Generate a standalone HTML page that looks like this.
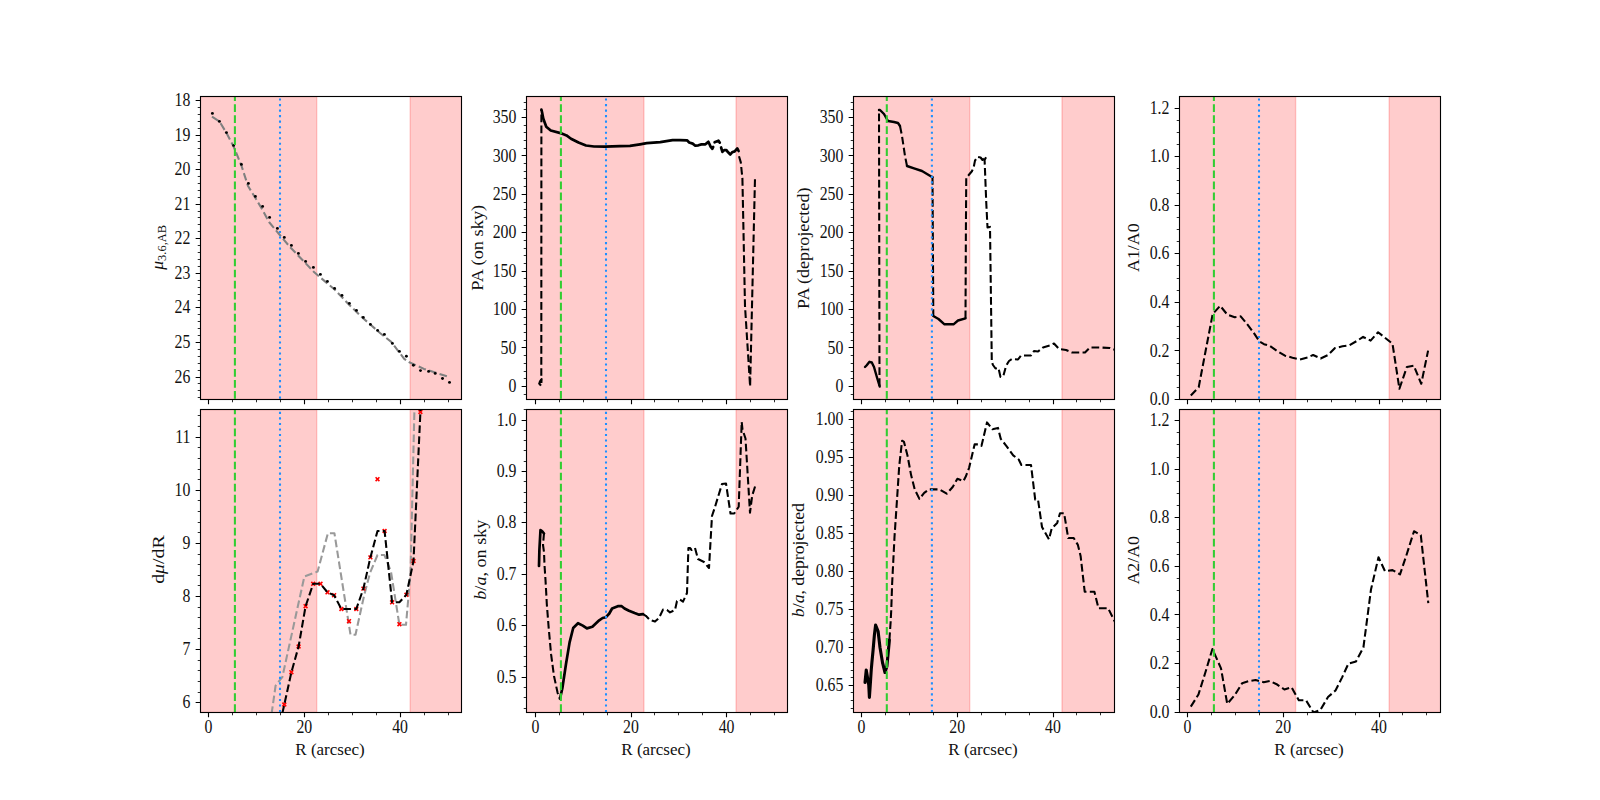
<!DOCTYPE html>
<html><head><meta charset="utf-8"><title>Profiles</title>
<style>html,body{margin:0;padding:0;background:#fff;width:1600px;height:800px;overflow:hidden}svg{display:block}text{font-family:'Liberation Serif', 'DejaVu Serif', serif;fill:#111}</style>
</head><body>
<svg width="1600" height="800" viewBox="0 0 1600 800">
<rect x="0" y="0" width="1600" height="800" fill="#fff"/>
<defs>
<clipPath id="c0"><rect x="200.5" y="96.5" width="261" height="303"/></clipPath>
<clipPath id="c1"><rect x="526.5" y="96.5" width="261" height="303"/></clipPath>
<clipPath id="c2"><rect x="853.5" y="96.5" width="261" height="303"/></clipPath>
<clipPath id="c3"><rect x="1179.5" y="96.5" width="261" height="303"/></clipPath>
<clipPath id="c4"><rect x="200.5" y="409.5" width="261" height="303"/></clipPath>
<clipPath id="c5"><rect x="526.5" y="409.5" width="261" height="303"/></clipPath>
<clipPath id="c6"><rect x="853.5" y="409.5" width="261" height="303"/></clipPath>
<clipPath id="c7"><rect x="1179.5" y="409.5" width="261" height="303"/></clipPath>
</defs>
<g clip-path="url(#c0)">
<rect x="195.5" y="96.5" width="121.2" height="303" fill="#ff0000" fill-opacity="0.2" stroke="#ff0000" stroke-opacity="0.2" stroke-width="1.39"/>
<rect x="410.2" y="96.5" width="61.3" height="303" fill="#ff0000" fill-opacity="0.2" stroke="#ff0000" stroke-opacity="0.2" stroke-width="1.39"/>
<polyline points="212,116.6 219.4,121.4 226.5,133 233.6,146.5 241.4,165.5 248,186 255.4,198 262.6,210 269,222 279,234 290,247 314,272 320.4,277.5 334.6,289.5 349.4,305 363.4,318.5 380,333 391.25,341.9 404.2,358.8 409.25,362.2 423.9,368.9 436,372.8 448.6,376.8" fill="none" stroke="#808080" stroke-width="2.08" stroke-dasharray="7.7 3.33" stroke-linejoin="round"/>
<g fill="#000"><circle cx="212.4" cy="113.4" r="1.45"/><circle cx="219.4" cy="121.4" r="1.45"/><circle cx="226.4" cy="132.6" r="1.45"/><circle cx="233.6" cy="145.4" r="1.45"/><circle cx="241.4" cy="164.4" r="1.45"/><circle cx="248.4" cy="183.4" r="1.45"/><circle cx="255.4" cy="196.4" r="1.45"/><circle cx="262.6" cy="206.4" r="1.45"/><circle cx="269.6" cy="217.4" r="1.45"/><circle cx="277.4" cy="228.4" r="1.45"/><circle cx="284.3" cy="237.4" r="1.45"/><circle cx="291.4" cy="245.4" r="1.45"/><circle cx="298.4" cy="253.4" r="1.45"/><circle cx="305.6" cy="261.4" r="1.45"/><circle cx="313.4" cy="267.4" r="1.45"/><circle cx="320.4" cy="274.4" r="1.45"/><circle cx="327.4" cy="281.4" r="1.45"/><circle cx="334.6" cy="288.4" r="1.45"/><circle cx="342" cy="295.4" r="1.45"/><circle cx="349.4" cy="303.4" r="1.45"/><circle cx="356.45" cy="310.4" r="1.45"/><circle cx="363.3" cy="317.4" r="1.45"/><circle cx="370.4" cy="324.4" r="1.45"/><circle cx="377.6" cy="330.4" r="1.45"/><circle cx="384.4" cy="334.4" r="1.45"/><circle cx="392.4" cy="343.4" r="1.45"/><circle cx="399.4" cy="351.4" r="1.45"/><circle cx="406.4" cy="356.2" r="1.45"/><circle cx="413.4" cy="365.3" r="1.45"/><circle cx="420.5" cy="370.6" r="1.45"/><circle cx="428.6" cy="371.4" r="1.45"/><circle cx="435.2" cy="373.4" r="1.45"/><circle cx="442.5" cy="378.5" r="1.45"/><circle cx="449.5" cy="382.4" r="1.45"/></g>
<line x1="234.9" y1="398.7" x2="234.9" y2="95.5" stroke="#32cd32" stroke-width="2.08" stroke-dasharray="7.7 3.33"/>
<line x1="280" y1="398.7" x2="280" y2="95.5" stroke="#1e90ff" stroke-width="2.08" stroke-dasharray="2.08 3.44"/>
</g>
<path d="M208.5 399.5v4.86M304.5 399.5v4.86M400.5 399.5v4.86M200.5 100.5h-4.86M200.5 135.5h-4.86M200.5 169.5h-4.86M200.5 204.5h-4.86M200.5 238.5h-4.86M200.5 273.5h-4.86M200.5 307.5h-4.86M200.5 342.5h-4.86M200.5 377.5h-4.86" stroke="#000" stroke-width="1.11" fill="none"/>
<path d="M232.5 399.5v2.78M256.5 399.5v2.78M280.5 399.5v2.78M328.5 399.5v2.78M352.5 399.5v2.78M376.5 399.5v2.78M424.5 399.5v2.78M448.5 399.5v2.78M200.5 107.5h-2.78M200.5 114.5h-2.78M200.5 121.5h-2.78M200.5 128.5h-2.78M200.5 141.5h-2.78M200.5 148.5h-2.78M200.5 155.5h-2.78M200.5 162.5h-2.78M200.5 176.5h-2.78M200.5 183.5h-2.78M200.5 190.5h-2.78M200.5 197.5h-2.78M200.5 211.5h-2.78M200.5 217.5h-2.78M200.5 224.5h-2.78M200.5 231.5h-2.78M200.5 245.5h-2.78M200.5 252.5h-2.78M200.5 259.5h-2.78M200.5 266.5h-2.78M200.5 280.5h-2.78M200.5 287.5h-2.78M200.5 294.5h-2.78M200.5 300.5h-2.78M200.5 314.5h-2.78M200.5 321.5h-2.78M200.5 328.5h-2.78M200.5 335.5h-2.78M200.5 349.5h-2.78M200.5 356.5h-2.78M200.5 363.5h-2.78M200.5 370.5h-2.78M200.5 383.5h-2.78M200.5 390.5h-2.78M200.5 397.5h-2.78" stroke="#000" stroke-width="0.83" fill="none"/>
<rect x="200.5" y="96.5" width="261" height="303" fill="none" stroke="#000" stroke-width="1.11" stroke-linejoin="miter"/>
<text transform="translate(190.4 106.05) scale(0.93 1.07)" font-size="17" text-anchor="end">18</text>
<text transform="translate(190.4 140.62) scale(0.93 1.07)" font-size="17" text-anchor="end">19</text>
<text transform="translate(190.4 175.19) scale(0.93 1.07)" font-size="17" text-anchor="end">20</text>
<text transform="translate(190.4 209.76) scale(0.93 1.07)" font-size="17" text-anchor="end">21</text>
<text transform="translate(190.4 244.33) scale(0.93 1.07)" font-size="17" text-anchor="end">22</text>
<text transform="translate(190.4 278.9) scale(0.93 1.07)" font-size="17" text-anchor="end">23</text>
<text transform="translate(190.4 313.47) scale(0.93 1.07)" font-size="17" text-anchor="end">24</text>
<text transform="translate(190.4 348.04) scale(0.93 1.07)" font-size="17" text-anchor="end">25</text>
<text transform="translate(190.4 382.61) scale(0.93 1.07)" font-size="17" text-anchor="end">26</text>
<g clip-path="url(#c1)">
<rect x="521.5" y="96.5" width="122.4" height="303" fill="#ff0000" fill-opacity="0.2" stroke="#ff0000" stroke-opacity="0.2" stroke-width="1.39"/>
<rect x="736.1" y="96.5" width="61.4" height="303" fill="#ff0000" fill-opacity="0.2" stroke="#ff0000" stroke-opacity="0.2" stroke-width="1.39"/>
<polyline points="539.5,382 541.6,379 541.2,386 539.2,383.5 541.3,379.5 541.4,110" fill="none" stroke="#000" stroke-width="2.08" stroke-dasharray="7.7 3.33" stroke-linejoin="round"/>
<polyline points="739,156.25 740.8,162.4 741.8,172.5 742.4,178 745,306 750.1,386.4 752,306 755,178 755.8,176.5" fill="none" stroke="#000" stroke-width="2.08" stroke-dasharray="7.7 3.33" stroke-linejoin="round"/>
<polyline points="541.4,109.5 542,112 543.25,118.5 546.25,126.75 550.75,130.5 560.5,133.1 566.5,135.4 571,138.75 578.5,142.5 586,145.5 594,146.5 605,146.6 620,146.2 630,145.8 640,144.3 646.75,143.2 660.3,142.1 672.6,140.2 680,140.1 687,140.3 689.2,142.5 692.7,143.6 695.3,145.75 698.4,145.3 701.4,144.4 705.4,144.4 706.2,143.6 708.4,141.8 710.6,146.6 712.4,148.8 713.2,147" fill="none" stroke="#000" stroke-width="2.7" stroke-linejoin="round" stroke-linecap="round"/>
<polyline points="714.6,142.25 716.5,141.5 718.5,140.7 719.8,142.7" fill="none" stroke="#000" stroke-width="2.7" stroke-linejoin="round" stroke-linecap="round"/>
<polyline points="721.1,147.5 722.4,151.9 724.2,150.1 726.4,150.1 728.1,152.3 730.3,154.5 732.1,152.3 734.7,151.4 737.3,148.4 738.6,151" fill="none" stroke="#000" stroke-width="2.7" stroke-linejoin="round" stroke-linecap="round"/>
<line x1="560.9" y1="398.7" x2="560.9" y2="95.5" stroke="#32cd32" stroke-width="2.08" stroke-dasharray="7.7 3.33"/>
<line x1="606" y1="398.7" x2="606" y2="95.5" stroke="#1e90ff" stroke-width="2.08" stroke-dasharray="2.08 3.44"/>
</g>
<path d="M535.5 399.5v4.86M631.5 399.5v4.86M726.5 399.5v4.86M526.5 386.5h-4.86M526.5 347.5h-4.86M526.5 309.5h-4.86M526.5 271.5h-4.86M526.5 232.5h-4.86M526.5 194.5h-4.86M526.5 155.5h-4.86M526.5 117.5h-4.86" stroke="#000" stroke-width="1.11" fill="none"/>
<path d="M559.5 399.5v2.78M583.5 399.5v2.78M607.5 399.5v2.78M654.5 399.5v2.78M678.5 399.5v2.78M702.5 399.5v2.78M750.5 399.5v2.78M774.5 399.5v2.78M526.5 394.5h-2.78M526.5 378.5h-2.78M526.5 371.5h-2.78M526.5 363.5h-2.78M526.5 355.5h-2.78M526.5 340.5h-2.78M526.5 332.5h-2.78M526.5 324.5h-2.78M526.5 317.5h-2.78M526.5 301.5h-2.78M526.5 294.5h-2.78M526.5 286.5h-2.78M526.5 278.5h-2.78M526.5 263.5h-2.78M526.5 255.5h-2.78M526.5 248.5h-2.78M526.5 240.5h-2.78M526.5 225.5h-2.78M526.5 217.5h-2.78M526.5 209.5h-2.78M526.5 202.5h-2.78M526.5 186.5h-2.78M526.5 178.5h-2.78M526.5 171.5h-2.78M526.5 163.5h-2.78M526.5 148.5h-2.78M526.5 140.5h-2.78M526.5 132.5h-2.78M526.5 125.5h-2.78M526.5 109.5h-2.78M526.5 102.5h-2.78" stroke="#000" stroke-width="0.83" fill="none"/>
<rect x="526.5" y="96.5" width="261" height="303" fill="none" stroke="#000" stroke-width="1.11" stroke-linejoin="miter"/>
<text transform="translate(516.4 392) scale(0.93 1.07)" font-size="17" text-anchor="end">0</text>
<text transform="translate(516.4 353.58) scale(0.93 1.07)" font-size="17" text-anchor="end">50</text>
<text transform="translate(516.4 315.17) scale(0.93 1.07)" font-size="17" text-anchor="end">100</text>
<text transform="translate(516.4 276.75) scale(0.93 1.07)" font-size="17" text-anchor="end">150</text>
<text transform="translate(516.4 238.34) scale(0.93 1.07)" font-size="17" text-anchor="end">200</text>
<text transform="translate(516.4 199.92) scale(0.93 1.07)" font-size="17" text-anchor="end">250</text>
<text transform="translate(516.4 161.51) scale(0.93 1.07)" font-size="17" text-anchor="end">300</text>
<text transform="translate(516.4 123.09) scale(0.93 1.07)" font-size="17" text-anchor="end">350</text>
<g clip-path="url(#c2)">
<rect x="848.5" y="96.5" width="121.2" height="303" fill="#ff0000" fill-opacity="0.2" stroke="#ff0000" stroke-opacity="0.2" stroke-width="1.39"/>
<rect x="1062" y="96.5" width="62.5" height="303" fill="#ff0000" fill-opacity="0.2" stroke="#ff0000" stroke-opacity="0.2" stroke-width="1.39"/>
<polyline points="879.5,386 879,110" fill="none" stroke="#000" stroke-width="2.08" stroke-dasharray="7.7 3.33" stroke-linejoin="round"/>
<polyline points="900,126 902,136 905,156 907,166" fill="none" stroke="#000" stroke-width="2.08" stroke-dasharray="7.7 3.33" stroke-linejoin="round"/>
<polyline points="932.5,177 933.3,316" fill="none" stroke="#000" stroke-width="2.08" stroke-dasharray="7.7 3.33" stroke-linejoin="round"/>
<polyline points="965.5,318.3 965.9,230 966.25,177.5 968.75,175 971.9,171.25 973.75,166.9 975,160.6 977.5,156.9 980.6,157.5 982.5,160 984.4,158.1 986.25,156.9 984.6,160 986.25,202.5 987.5,227.5 990,226.9 991.8,362 993,365 995.5,368.5 998.5,368 1000.5,377 1003.5,375.5 1006,366 1009,361 1012,359 1018,359.5 1021,355.5 1031,355.5 1034,351 1038,351.5 1043,347.5 1050,345.5 1054,343.5 1059,349 1066,350 1072,352.5 1085,352.5 1090,347.5 1100,347.5 1110,348 1114,349.5 1120,350" fill="none" stroke="#000" stroke-width="2.08" stroke-dasharray="7.7 3.33" stroke-linejoin="round"/>
<polyline points="865,367 866.5,365.5 869.5,361.8 871.8,362.5 874,367 877,377.5 879.7,386.5" fill="none" stroke="#000" stroke-width="2.4" stroke-linejoin="round" stroke-linecap="round"/>
<polyline points="879,110 880,110 884,114 888,121 894,122 898,123 900,126" fill="none" stroke="#000" stroke-width="2.4" stroke-linejoin="round" stroke-linecap="round"/>
<polyline points="907,166 914,168.4 922,171 932,177 932.5,177" fill="none" stroke="#000" stroke-width="2.4" stroke-linejoin="round" stroke-linecap="round"/>
<polyline points="933.3,316 938.5,319 944.5,324.3 953.5,324.3 958,320.5 965.5,318.3" fill="none" stroke="#000" stroke-width="2.4" stroke-linejoin="round" stroke-linecap="round"/>
<line x1="886.8" y1="398.7" x2="886.8" y2="95.5" stroke="#32cd32" stroke-width="2.08" stroke-dasharray="7.7 3.33"/>
<line x1="931.9" y1="398.7" x2="931.9" y2="95.5" stroke="#1e90ff" stroke-width="2.08" stroke-dasharray="2.08 3.44"/>
</g>
<path d="M861.5 399.5v4.86M957.5 399.5v4.86M1053.5 399.5v4.86M853.5 386.5h-4.86M853.5 347.5h-4.86M853.5 309.5h-4.86M853.5 271.5h-4.86M853.5 232.5h-4.86M853.5 194.5h-4.86M853.5 155.5h-4.86M853.5 117.5h-4.86" stroke="#000" stroke-width="1.11" fill="none"/>
<path d="M885.5 399.5v2.78M909.5 399.5v2.78M933.5 399.5v2.78M981.5 399.5v2.78M1005.5 399.5v2.78M1029.5 399.5v2.78M1076.5 399.5v2.78M1100.5 399.5v2.78M853.5 394.5h-2.78M853.5 378.5h-2.78M853.5 371.5h-2.78M853.5 363.5h-2.78M853.5 355.5h-2.78M853.5 340.5h-2.78M853.5 332.5h-2.78M853.5 324.5h-2.78M853.5 317.5h-2.78M853.5 301.5h-2.78M853.5 294.5h-2.78M853.5 286.5h-2.78M853.5 278.5h-2.78M853.5 263.5h-2.78M853.5 255.5h-2.78M853.5 248.5h-2.78M853.5 240.5h-2.78M853.5 225.5h-2.78M853.5 217.5h-2.78M853.5 209.5h-2.78M853.5 202.5h-2.78M853.5 186.5h-2.78M853.5 178.5h-2.78M853.5 171.5h-2.78M853.5 163.5h-2.78M853.5 148.5h-2.78M853.5 140.5h-2.78M853.5 132.5h-2.78M853.5 125.5h-2.78M853.5 109.5h-2.78M853.5 102.5h-2.78" stroke="#000" stroke-width="0.83" fill="none"/>
<rect x="853.5" y="96.5" width="261" height="303" fill="none" stroke="#000" stroke-width="1.11" stroke-linejoin="miter"/>
<text transform="translate(843.4 392) scale(0.93 1.07)" font-size="17" text-anchor="end">0</text>
<text transform="translate(843.4 353.58) scale(0.93 1.07)" font-size="17" text-anchor="end">50</text>
<text transform="translate(843.4 315.17) scale(0.93 1.07)" font-size="17" text-anchor="end">100</text>
<text transform="translate(843.4 276.75) scale(0.93 1.07)" font-size="17" text-anchor="end">150</text>
<text transform="translate(843.4 238.34) scale(0.93 1.07)" font-size="17" text-anchor="end">200</text>
<text transform="translate(843.4 199.92) scale(0.93 1.07)" font-size="17" text-anchor="end">250</text>
<text transform="translate(843.4 161.51) scale(0.93 1.07)" font-size="17" text-anchor="end">300</text>
<text transform="translate(843.4 123.09) scale(0.93 1.07)" font-size="17" text-anchor="end">350</text>
<g clip-path="url(#c3)">
<rect x="1174.5" y="96.5" width="121.1" height="303" fill="#ff0000" fill-opacity="0.2" stroke="#ff0000" stroke-opacity="0.2" stroke-width="1.39"/>
<rect x="1389.2" y="96.5" width="61.3" height="303" fill="#ff0000" fill-opacity="0.2" stroke="#ff0000" stroke-opacity="0.2" stroke-width="1.39"/>
<polyline points="1190.8,395.5 1198.7,387.2 1205.4,352 1212.7,314 1220.2,305.8 1227.2,314.5 1234.7,317.2 1240.7,316.4 1246.7,323.5 1253.5,332.5 1259.5,341.5 1264,344.2 1270,346 1277.5,351.2 1285,355.7 1292.5,357.7 1300,359.4 1307.5,357.5 1313.1,355 1320.6,358.5 1328.1,355 1335,348.1 1342.5,346.25 1349.4,345.25 1357.5,340.6 1363.1,336.9 1370.6,340.6 1378.1,332.25 1386.25,338.75 1392.5,343.75 1399.4,388.75 1406.9,366.9 1413.75,365.6 1421.25,383.75 1428.1,350.6" fill="none" stroke="#000" stroke-width="2.08" stroke-dasharray="7.7 3.33" stroke-linejoin="round"/>
<line x1="1213.9" y1="398.7" x2="1213.9" y2="95.5" stroke="#32cd32" stroke-width="2.08" stroke-dasharray="7.7 3.33"/>
<line x1="1259" y1="398.7" x2="1259" y2="95.5" stroke="#1e90ff" stroke-width="2.08" stroke-dasharray="2.08 3.44"/>
</g>
<path d="M1187.5 399.5v4.86M1283.5 399.5v4.86M1379.5 399.5v4.86M1179.5 399.5h-4.86M1179.5 350.5h-4.86M1179.5 302.5h-4.86M1179.5 253.5h-4.86M1179.5 205.5h-4.86M1179.5 156.5h-4.86M1179.5 108.5h-4.86" stroke="#000" stroke-width="1.11" fill="none"/>
<path d="M1211.5 399.5v2.78M1235.5 399.5v2.78M1259.5 399.5v2.78M1307.5 399.5v2.78M1331.5 399.5v2.78M1355.5 399.5v2.78M1402.5 399.5v2.78M1426.5 399.5v2.78M1179.5 387.5h-2.78M1179.5 375.5h-2.78M1179.5 363.5h-2.78M1179.5 338.5h-2.78M1179.5 326.5h-2.78M1179.5 314.5h-2.78M1179.5 290.5h-2.78M1179.5 278.5h-2.78M1179.5 265.5h-2.78M1179.5 241.5h-2.78M1179.5 229.5h-2.78M1179.5 217.5h-2.78M1179.5 193.5h-2.78M1179.5 180.5h-2.78M1179.5 168.5h-2.78M1179.5 144.5h-2.78M1179.5 132.5h-2.78M1179.5 120.5h-2.78" stroke="#000" stroke-width="0.83" fill="none"/>
<rect x="1179.5" y="96.5" width="261" height="303" fill="none" stroke="#000" stroke-width="1.11" stroke-linejoin="miter"/>
<text transform="translate(1169.4 405.05) scale(0.93 1.07)" font-size="17" text-anchor="end">0.0</text>
<text transform="translate(1169.4 356.5) scale(0.93 1.07)" font-size="17" text-anchor="end">0.2</text>
<text transform="translate(1169.4 307.95) scale(0.93 1.07)" font-size="17" text-anchor="end">0.4</text>
<text transform="translate(1169.4 259.39) scale(0.93 1.07)" font-size="17" text-anchor="end">0.6</text>
<text transform="translate(1169.4 210.84) scale(0.93 1.07)" font-size="17" text-anchor="end">0.8</text>
<text transform="translate(1169.4 162.29) scale(0.93 1.07)" font-size="17" text-anchor="end">1.0</text>
<text transform="translate(1169.4 113.74) scale(0.93 1.07)" font-size="17" text-anchor="end">1.2</text>
<g clip-path="url(#c4)">
<rect x="195.5" y="409.5" width="121.2" height="303" fill="#ff0000" fill-opacity="0.2" stroke="#ff0000" stroke-opacity="0.2" stroke-width="1.39"/>
<rect x="410.2" y="409.5" width="61.3" height="303" fill="#ff0000" fill-opacity="0.2" stroke="#ff0000" stroke-opacity="0.2" stroke-width="1.39"/>
<polyline points="270,725 275.6,685.6 282.3,677.2 304.4,576.4 317.6,571.6 327.9,533.2 334.4,533.2 350.5,634.7 355.5,634.7 364,596 370,573 377.5,555 384.4,555 391,571.7 399.4,624.8 406,624.8 410.5,573 414.4,411 414.6,380" fill="none" stroke="#999999" stroke-width="2.08" stroke-dasharray="7.7 3.33" stroke-linejoin="round"/>
<path d="M282.4 702.6L286.2 706.4M282.4 706.4L286.2 702.6M289.5 670.3L293.3 674.1M289.5 674.1L293.3 670.3M296.7 644.6L300.5 648.4M296.7 648.4L300.5 644.6M303.7 604.3L307.5 608.1M303.7 608.1L307.5 604.3M311.3 581.9L315.1 585.7M311.3 585.7L315.1 581.9M318.6 581.9L322.4 585.7M318.6 585.7L322.4 581.9M325.6 590.4L329.4 594.2M325.6 594.2L329.4 590.4M332.2 593.3L336 597.1M332.2 597.1L336 593.3M339.5 607.1L343.3 610.9M339.5 610.9L343.3 607.1M347.1 619.3L350.9 623.1M347.1 623.1L350.9 619.3M354.4 607.1L358.2 610.9M354.4 610.9L358.2 607.1M361.5 586.7L365.3 590.5M361.5 590.5L365.3 586.7M368.5 555.5L372.3 559.3M368.5 559.3L372.3 555.5M375.6 477.3L379.4 481.1M375.6 481.1L379.4 477.3M382.7 529.1L386.5 532.9M382.7 532.9L386.5 529.1M390.2 600.4L394 604.2M390.2 604.2L394 600.4M397.5 622.3L401.3 626.1M397.5 626.1L401.3 622.3M404.5 592.9L408.3 596.7M404.5 596.7L408.3 592.9M411.6 559.1L415.4 562.9M411.6 562.9L415.4 559.1M418.5 410.1L422.3 413.9M418.5 413.9L422.3 410.1" stroke="#ff0000" stroke-width="1.6" fill="none"/>
<polyline points="277.5,735 284.3,704.5 291.4,672.2 298.6,646.5 305.6,606.2 313.2,583.8 320.5,583.8 327.5,592.3 334.1,595.2 341.4,609 349,609 356.3,609 363.4,588.6 370.4,557.4 377.5,531 384.6,531 392.1,602.3 399.4,602.3 406.4,594.8 413.5,561 420.4,412 422,370" fill="none" stroke="#000" stroke-width="2.08" stroke-dasharray="7.7 3.33" stroke-linejoin="round"/>
<line x1="234.9" y1="712" x2="234.9" y2="408.5" stroke="#32cd32" stroke-width="2.08" stroke-dasharray="7.7 3.33"/>
<line x1="280" y1="712" x2="280" y2="408.5" stroke="#1e90ff" stroke-width="2.08" stroke-dasharray="2.08 3.44"/>
</g>
<path d="M208.5 712.5v4.86M304.5 712.5v4.86M400.5 712.5v4.86M200.5 702.5h-4.86M200.5 649.5h-4.86M200.5 596.5h-4.86M200.5 543.5h-4.86M200.5 490.5h-4.86M200.5 437.5h-4.86" stroke="#000" stroke-width="1.11" fill="none"/>
<path d="M232.5 712.5v2.78M256.5 712.5v2.78M280.5 712.5v2.78M328.5 712.5v2.78M352.5 712.5v2.78M376.5 712.5v2.78M424.5 712.5v2.78M448.5 712.5v2.78M200.5 692.5h-2.78M200.5 681.5h-2.78M200.5 670.5h-2.78M200.5 660.5h-2.78M200.5 638.5h-2.78M200.5 628.5h-2.78M200.5 617.5h-2.78M200.5 607.5h-2.78M200.5 585.5h-2.78M200.5 575.5h-2.78M200.5 564.5h-2.78M200.5 554.5h-2.78M200.5 532.5h-2.78M200.5 522.5h-2.78M200.5 511.5h-2.78M200.5 500.5h-2.78M200.5 479.5h-2.78M200.5 469.5h-2.78M200.5 458.5h-2.78M200.5 447.5h-2.78M200.5 426.5h-2.78M200.5 415.5h-2.78" stroke="#000" stroke-width="0.83" fill="none"/>
<rect x="200.5" y="409.5" width="261" height="303" fill="none" stroke="#000" stroke-width="1.11" stroke-linejoin="miter"/>
<text transform="translate(190.4 708.3) scale(0.93 1.07)" font-size="17" text-anchor="end">6</text>
<text transform="translate(190.4 655.2) scale(0.93 1.07)" font-size="17" text-anchor="end">7</text>
<text transform="translate(190.4 602.1) scale(0.93 1.07)" font-size="17" text-anchor="end">8</text>
<text transform="translate(190.4 549) scale(0.93 1.07)" font-size="17" text-anchor="end">9</text>
<text transform="translate(190.4 495.9) scale(0.93 1.07)" font-size="17" text-anchor="end">10</text>
<text transform="translate(190.4 442.8) scale(0.93 1.07)" font-size="17" text-anchor="end">11</text>
<text transform="translate(208.5 732.6) scale(0.93 1.07)" font-size="17" text-anchor="middle">0</text>
<text transform="translate(304.3 732.6) scale(0.93 1.07)" font-size="17" text-anchor="middle">20</text>
<text transform="translate(400.1 732.6) scale(0.93 1.07)" font-size="17" text-anchor="middle">40</text>
<text x="330" y="755" font-size="17" text-anchor="middle">R (arcsec)</text>
<g clip-path="url(#c5)">
<rect x="521.5" y="409.5" width="122.4" height="303" fill="#ff0000" fill-opacity="0.2" stroke="#ff0000" stroke-opacity="0.2" stroke-width="1.39"/>
<rect x="736.1" y="409.5" width="61.4" height="303" fill="#ff0000" fill-opacity="0.2" stroke="#ff0000" stroke-opacity="0.2" stroke-width="1.39"/>
<polyline points="544,533 543,545 544,552 544.5,565 545.5,580 546.5,598 546.8,604 548.7,628 551.1,654.4 554,676 557.6,692.8 560,698.8" fill="none" stroke="#000" stroke-width="2.08" stroke-dasharray="7.7 3.33" stroke-linejoin="round"/>
<polyline points="643,614.1 645.8,615.8 650,620 655,621.6 659,618 663,609.6 667,610 670,612.4 675,610 677,601 680,599.6 683,601.6 687,593 688.4,548 690,548 691.6,550 695,548 698,559 704,562 709,568 712,516 715,507 718,497 722,484 726,483.5 730.5,513.5 734.2,513.5 738.7,506.7 741.7,422 742.5,429.5 745.5,438.5 750,512.7 752.2,495.5 756,483.5" fill="none" stroke="#000" stroke-width="2.08" stroke-dasharray="7.7 3.33" stroke-linejoin="round"/>
<polyline points="539,566 539.4,550 540.5,530 542,531 544,533.5" fill="none" stroke="#000" stroke-width="2.7" stroke-linejoin="round" stroke-linecap="round"/>
<polyline points="560,698.8 562.4,688 566,664 569.6,642.4 573.2,628 578,623.2 582.8,625.6 586.9,628.4 592.4,626.8 599.2,620.3 602.6,618 606,617.2 609.3,613.5 612.1,608.5 617.8,606.2 621.7,606.2 624.5,608.5 629,610.7 634.6,613 639.1,614.7 643,614.1" fill="none" stroke="#000" stroke-width="2.7" stroke-linejoin="round" stroke-linecap="round"/>
<line x1="560.9" y1="712" x2="560.9" y2="408.5" stroke="#32cd32" stroke-width="2.08" stroke-dasharray="7.7 3.33"/>
<line x1="606" y1="712" x2="606" y2="408.5" stroke="#1e90ff" stroke-width="2.08" stroke-dasharray="2.08 3.44"/>
</g>
<path d="M535.5 712.5v4.86M631.5 712.5v4.86M726.5 712.5v4.86M526.5 677.5h-4.86M526.5 625.5h-4.86M526.5 574.5h-4.86M526.5 522.5h-4.86M526.5 471.5h-4.86M526.5 420.5h-4.86" stroke="#000" stroke-width="1.11" fill="none"/>
<path d="M559.5 712.5v2.78M583.5 712.5v2.78M607.5 712.5v2.78M654.5 712.5v2.78M678.5 712.5v2.78M702.5 712.5v2.78M750.5 712.5v2.78M774.5 712.5v2.78M526.5 708.5h-2.78M526.5 697.5h-2.78M526.5 687.5h-2.78M526.5 666.5h-2.78M526.5 656.5h-2.78M526.5 646.5h-2.78M526.5 636.5h-2.78M526.5 615.5h-2.78M526.5 605.5h-2.78M526.5 594.5h-2.78M526.5 584.5h-2.78M526.5 564.5h-2.78M526.5 553.5h-2.78M526.5 543.5h-2.78M526.5 533.5h-2.78M526.5 512.5h-2.78M526.5 502.5h-2.78M526.5 492.5h-2.78M526.5 481.5h-2.78M526.5 461.5h-2.78M526.5 450.5h-2.78M526.5 440.5h-2.78M526.5 430.5h-2.78M526.5 409.5h-2.78" stroke="#000" stroke-width="0.83" fill="none"/>
<rect x="526.5" y="409.5" width="261" height="303" fill="none" stroke="#000" stroke-width="1.11" stroke-linejoin="miter"/>
<text transform="translate(516.4 682.8) scale(0.93 1.07)" font-size="17" text-anchor="end">0.5</text>
<text transform="translate(516.4 631.36) scale(0.93 1.07)" font-size="17" text-anchor="end">0.6</text>
<text transform="translate(516.4 579.92) scale(0.93 1.07)" font-size="17" text-anchor="end">0.7</text>
<text transform="translate(516.4 528.48) scale(0.93 1.07)" font-size="17" text-anchor="end">0.8</text>
<text transform="translate(516.4 477.04) scale(0.93 1.07)" font-size="17" text-anchor="end">0.9</text>
<text transform="translate(516.4 425.6) scale(0.93 1.07)" font-size="17" text-anchor="end">1.0</text>
<text transform="translate(535.45 732.6) scale(0.93 1.07)" font-size="17" text-anchor="middle">0</text>
<text transform="translate(631 732.6) scale(0.93 1.07)" font-size="17" text-anchor="middle">20</text>
<text transform="translate(726.55 732.6) scale(0.93 1.07)" font-size="17" text-anchor="middle">40</text>
<text x="656" y="755" font-size="17" text-anchor="middle">R (arcsec)</text>
<g clip-path="url(#c6)">
<rect x="848.5" y="409.5" width="121.2" height="303" fill="#ff0000" fill-opacity="0.2" stroke="#ff0000" stroke-opacity="0.2" stroke-width="1.39"/>
<rect x="1062" y="409.5" width="62.5" height="303" fill="#ff0000" fill-opacity="0.2" stroke="#ff0000" stroke-opacity="0.2" stroke-width="1.39"/>
<polyline points="889.4,640 890.6,622.5 891.25,610 892.1,584.4 894.5,536.9 896.9,501.3 899.25,465.6 902.1,440.7 904,441.9 907.6,456.1 911.1,475.1 914.7,489.4 919.4,498.9 924.2,492.9 928.9,489.4 939.6,489.4 946.75,493.7 952.7,487 957.4,478.7 963.4,481.1 966,476 969.1,467.8 974.6,444.4 978.8,444.4 981.5,445.8 987,422.4 992.5,429.3 998,427.9 1000.8,438.9 1006.3,445.8 1013.2,455.4 1018.7,459.5 1021.4,465 1031,465 1035.2,499.5 1038,499.5 1042,527 1049,539.4 1051.7,528.4 1057.2,522.9 1060,513.2 1064.1,513.2 1068.2,538 1073.7,538 1077.9,544.9 1080.6,555.9 1084.7,591.7 1094.4,591.7 1098.5,608.2 1108.1,608.2 1115,622 1120,630" fill="none" stroke="#000" stroke-width="2.08" stroke-dasharray="7.7 3.33" stroke-linejoin="round"/>
<polyline points="865,682.5 866.25,670 867.5,677.5 868.75,685 869.4,697.5 870.6,680 871.25,670 871.9,662.5 873.1,650 874.4,635 875.6,625 878.1,631.25 880,647.5 882.5,662.5 885,672.5 886.9,666.25 888.1,653.75 889.4,640" fill="none" stroke="#000" stroke-width="3.1" stroke-linejoin="round" stroke-linecap="round"/>
<line x1="886.8" y1="712" x2="886.8" y2="408.5" stroke="#32cd32" stroke-width="2.08" stroke-dasharray="7.7 3.33"/>
<line x1="931.9" y1="712" x2="931.9" y2="408.5" stroke="#1e90ff" stroke-width="2.08" stroke-dasharray="2.08 3.44"/>
</g>
<path d="M861.5 712.5v4.86M957.5 712.5v4.86M1053.5 712.5v4.86M853.5 685.5h-4.86M853.5 647.5h-4.86M853.5 609.5h-4.86M853.5 571.5h-4.86M853.5 533.5h-4.86M853.5 495.5h-4.86M853.5 457.5h-4.86M853.5 419.5h-4.86" stroke="#000" stroke-width="1.11" fill="none"/>
<path d="M885.5 712.5v2.78M909.5 712.5v2.78M933.5 712.5v2.78M981.5 712.5v2.78M1005.5 712.5v2.78M1029.5 712.5v2.78M1076.5 712.5v2.78M1100.5 712.5v2.78M853.5 708.5h-2.78M853.5 700.5h-2.78M853.5 692.5h-2.78M853.5 677.5h-2.78M853.5 670.5h-2.78M853.5 662.5h-2.78M853.5 654.5h-2.78M853.5 639.5h-2.78M853.5 632.5h-2.78M853.5 624.5h-2.78M853.5 616.5h-2.78M853.5 601.5h-2.78M853.5 594.5h-2.78M853.5 586.5h-2.78M853.5 578.5h-2.78M853.5 563.5h-2.78M853.5 556.5h-2.78M853.5 548.5h-2.78M853.5 541.5h-2.78M853.5 525.5h-2.78M853.5 518.5h-2.78M853.5 510.5h-2.78M853.5 503.5h-2.78M853.5 487.5h-2.78M853.5 480.5h-2.78M853.5 472.5h-2.78M853.5 465.5h-2.78M853.5 449.5h-2.78M853.5 442.5h-2.78M853.5 434.5h-2.78M853.5 427.5h-2.78M853.5 411.5h-2.78" stroke="#000" stroke-width="0.83" fill="none"/>
<rect x="853.5" y="409.5" width="261" height="303" fill="none" stroke="#000" stroke-width="1.11" stroke-linejoin="miter"/>
<text transform="translate(843.4 690.9) scale(0.93 1.07)" font-size="17" text-anchor="end">0.65</text>
<text transform="translate(843.4 652.93) scale(0.93 1.07)" font-size="17" text-anchor="end">0.70</text>
<text transform="translate(843.4 614.96) scale(0.93 1.07)" font-size="17" text-anchor="end">0.75</text>
<text transform="translate(843.4 576.99) scale(0.93 1.07)" font-size="17" text-anchor="end">0.80</text>
<text transform="translate(843.4 539.02) scale(0.93 1.07)" font-size="17" text-anchor="end">0.85</text>
<text transform="translate(843.4 501.05) scale(0.93 1.07)" font-size="17" text-anchor="end">0.90</text>
<text transform="translate(843.4 463.08) scale(0.93 1.07)" font-size="17" text-anchor="end">0.95</text>
<text transform="translate(843.4 425.11) scale(0.93 1.07)" font-size="17" text-anchor="end">1.00</text>
<text transform="translate(861.4 732.6) scale(0.93 1.07)" font-size="17" text-anchor="middle">0</text>
<text transform="translate(957.2 732.6) scale(0.93 1.07)" font-size="17" text-anchor="middle">20</text>
<text transform="translate(1053 732.6) scale(0.93 1.07)" font-size="17" text-anchor="middle">40</text>
<text x="983" y="755" font-size="17" text-anchor="middle">R (arcsec)</text>
<g clip-path="url(#c7)">
<rect x="1174.5" y="409.5" width="121.1" height="303" fill="#ff0000" fill-opacity="0.2" stroke="#ff0000" stroke-opacity="0.2" stroke-width="1.39"/>
<rect x="1389.2" y="409.5" width="61.3" height="303" fill="#ff0000" fill-opacity="0.2" stroke="#ff0000" stroke-opacity="0.2" stroke-width="1.39"/>
<polyline points="1190.8,706.6 1198.45,694.5 1205.5,672 1212.4,649 1221,668.35 1227.25,703.9 1234.9,694.9 1242.1,683.2 1249.3,681 1255.6,680 1263.7,682.3 1270,681 1277.2,684.55 1284.4,689.5 1291.6,687.25 1298.8,700.3 1306,700.3 1313.5,712.5 1320.4,709.9 1328,697 1335.5,690.5 1342,677.6 1348.4,663.7 1356,661.5 1363.4,647.5 1371,589.5 1378.5,557.2 1385,571.2 1392.5,570.1 1400,574.4 1406.5,555 1414,531.2 1420.8,535.2 1428.3,603.2" fill="none" stroke="#000" stroke-width="2.08" stroke-dasharray="7.7 3.33" stroke-linejoin="round"/>
<line x1="1213.9" y1="712" x2="1213.9" y2="408.5" stroke="#32cd32" stroke-width="2.08" stroke-dasharray="7.7 3.33"/>
<line x1="1259" y1="712" x2="1259" y2="408.5" stroke="#1e90ff" stroke-width="2.08" stroke-dasharray="2.08 3.44"/>
</g>
<path d="M1187.5 712.5v4.86M1283.5 712.5v4.86M1379.5 712.5v4.86M1179.5 712.5h-4.86M1179.5 663.5h-4.86M1179.5 614.5h-4.86M1179.5 566.5h-4.86M1179.5 517.5h-4.86M1179.5 469.5h-4.86M1179.5 420.5h-4.86" stroke="#000" stroke-width="1.11" fill="none"/>
<path d="M1211.5 712.5v2.78M1235.5 712.5v2.78M1259.5 712.5v2.78M1307.5 712.5v2.78M1331.5 712.5v2.78M1355.5 712.5v2.78M1402.5 712.5v2.78M1426.5 712.5v2.78M1179.5 699.5h-2.78M1179.5 687.5h-2.78M1179.5 675.5h-2.78M1179.5 651.5h-2.78M1179.5 639.5h-2.78M1179.5 627.5h-2.78M1179.5 602.5h-2.78M1179.5 590.5h-2.78M1179.5 578.5h-2.78M1179.5 554.5h-2.78M1179.5 542.5h-2.78M1179.5 529.5h-2.78M1179.5 505.5h-2.78M1179.5 493.5h-2.78M1179.5 481.5h-2.78M1179.5 457.5h-2.78M1179.5 444.5h-2.78M1179.5 432.5h-2.78" stroke="#000" stroke-width="0.83" fill="none"/>
<rect x="1179.5" y="409.5" width="261" height="303" fill="none" stroke="#000" stroke-width="1.11" stroke-linejoin="miter"/>
<text transform="translate(1169.4 717.6) scale(0.93 1.07)" font-size="17" text-anchor="end">0.0</text>
<text transform="translate(1169.4 669.05) scale(0.93 1.07)" font-size="17" text-anchor="end">0.2</text>
<text transform="translate(1169.4 620.5) scale(0.93 1.07)" font-size="17" text-anchor="end">0.4</text>
<text transform="translate(1169.4 571.94) scale(0.93 1.07)" font-size="17" text-anchor="end">0.6</text>
<text transform="translate(1169.4 523.39) scale(0.93 1.07)" font-size="17" text-anchor="end">0.8</text>
<text transform="translate(1169.4 474.84) scale(0.93 1.07)" font-size="17" text-anchor="end">1.0</text>
<text transform="translate(1169.4 426.29) scale(0.93 1.07)" font-size="17" text-anchor="end">1.2</text>
<text transform="translate(1187.4 732.6) scale(0.93 1.07)" font-size="17" text-anchor="middle">0</text>
<text transform="translate(1283.2 732.6) scale(0.93 1.07)" font-size="17" text-anchor="middle">20</text>
<text transform="translate(1379 732.6) scale(0.93 1.07)" font-size="17" text-anchor="middle">40</text>
<text x="1309" y="755" font-size="17" text-anchor="middle">R (arcsec)</text>
<text transform="translate(163.3 247.35) rotate(-90)" font-size="17" text-anchor="middle" textLength="44.8" lengthAdjust="spacingAndGlyphs"><tspan font-style="italic">&#956;</tspan><tspan font-size="12" dy="2.2">3.6,AB</tspan></text>
<text transform="translate(482.8 247.8) rotate(-90)" font-size="17" text-anchor="middle" textLength="86" lengthAdjust="spacingAndGlyphs">PA (on sky)</text>
<text transform="translate(808.8 248.25) rotate(-90)" font-size="17" text-anchor="middle" textLength="121.5" lengthAdjust="spacingAndGlyphs">PA (deprojected)</text>
<text transform="translate(1139.1 247.7) rotate(-90)" font-size="17" text-anchor="middle" textLength="48.6" lengthAdjust="spacingAndGlyphs">A1/A0</text>
<text transform="translate(164.2 559.6) rotate(-90)" font-size="17" text-anchor="middle" textLength="48.3" lengthAdjust="spacingAndGlyphs">d<tspan font-style="italic">&#956;</tspan>/dR</text>
<text transform="translate(485.8 559.7) rotate(-90)" font-size="17" text-anchor="middle" textLength="80" lengthAdjust="spacingAndGlyphs"><tspan font-style="italic">b</tspan>/<tspan font-style="italic">a</tspan>, on sky</text>
<text transform="translate(803.8 560.15) rotate(-90)" font-size="17" text-anchor="middle" textLength="114" lengthAdjust="spacingAndGlyphs"><tspan font-style="italic">b</tspan>/<tspan font-style="italic">a</tspan>, deprojected</text>
<text transform="translate(1139.1 560.3) rotate(-90)" font-size="17" text-anchor="middle" textLength="48.6" lengthAdjust="spacingAndGlyphs">A2/A0</text>
</svg>
</body></html>
